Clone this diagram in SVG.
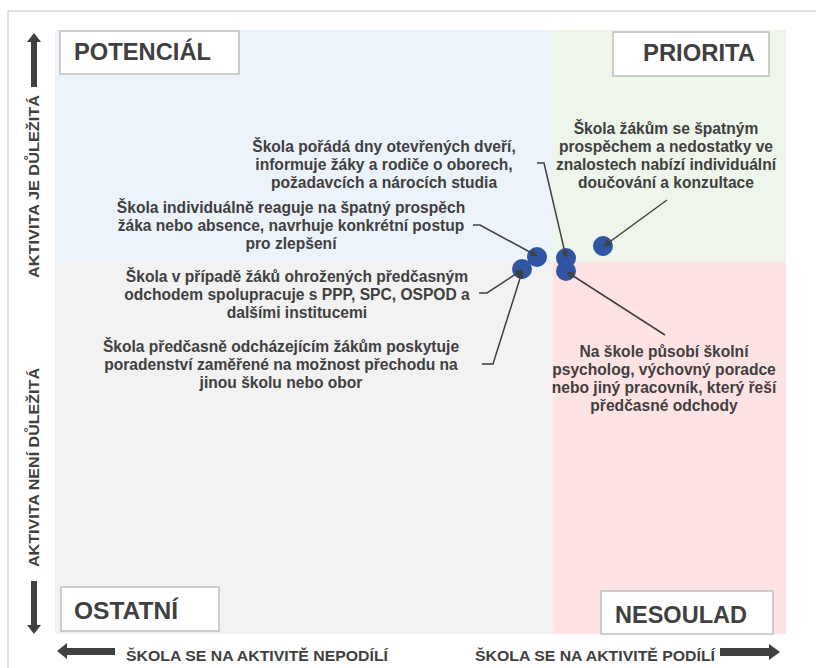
<svg xmlns="http://www.w3.org/2000/svg" width="816" height="668" viewBox="0 0 816 668">
<defs>
<style>
.frame{fill:none;stroke:#d9d9d9;stroke-width:1.5}
.lbl{fill:#fff;stroke:#bfbfbf;stroke-width:1.5}
.lt{font-family:"Liberation Sans",Arial,sans-serif;font-weight:bold;font-size:23px;fill:#404040}
.ax{font-family:"Liberation Sans",Arial,sans-serif;font-weight:bold;font-size:14px;fill:#404040}
.t{font-family:"Liberation Sans",Arial,sans-serif;font-weight:bold;font-size:15.6px;fill:#404040;text-anchor:middle}
.blk{fill:#404040}
.dot{fill:#2f55a3}
.con{fill:none;stroke:#404040;stroke-width:1.5;marker-end:url(#ah)}
</style>
<marker id="ah" viewBox="0 0 10 10" refX="9" refY="5" markerWidth="5" markerHeight="5" orient="auto" markerUnits="strokeWidth">
<path d="M0,0 L10,5 L0,10 z" fill="#404040"/>
</marker>
</defs>
<rect x="0" y="0" width="816" height="668" fill="#fff"/>
<path class="frame" d="M8,668 V11 H816"/>
<g id="quadrants">
<rect x="55" y="30" width="498" height="232" fill="#edf3fb"/>
<rect x="553" y="30" width="233" height="232" fill="#eef6ec"/>
<rect x="55" y="262" width="498" height="372" fill="#f2f2f2"/>
<rect x="553" y="262" width="233" height="372" fill="#ffe3e4"/>
</g>
<g id="label-potencial"><rect class="lbl" x="60" y="31" width="179" height="43"/><text class="lt" x="74" y="60" textLength="137" lengthAdjust="spacingAndGlyphs">POTENCIÁL</text></g>
<g id="label-priorita"><rect class="lbl" x="613" y="32" width="156" height="44"/><text class="lt" x="643" y="61" textLength="112" lengthAdjust="spacingAndGlyphs">PRIORITA</text></g>
<g id="label-ostatni"><rect class="lbl" x="61" y="587" width="158" height="44"/><text class="lt" x="74" y="619" textLength="104" lengthAdjust="spacingAndGlyphs">OSTATNÍ</text></g>
<g id="label-nesoulad"><rect class="lbl" x="601" y="591" width="172" height="43"/><text class="lt" x="615" y="623" textLength="132" lengthAdjust="spacingAndGlyphs">NESOULAD</text></g>
<g id="axes">
<path class="blk" d="M34,33 L41,42 L37,42 L37,87 L31,87 L31,42 L27,42 Z"/>
<path class="blk" d="M34,634 L41,625 L37,625 L37,581 L31,581 L31,625 L27,625 Z"/>
<path class="blk" d="M57,651 L67,643 L67,648 L115,648 L115,655 L67,655 L67,659 Z"/>
<path class="blk" d="M780,652 L769,644 L769,648 L720,648 L720,656 L769,656 L769,660 Z"/>
<text class="ax" transform="translate(39,278) rotate(-90)" textLength="183" lengthAdjust="spacingAndGlyphs">AKTIVITA JE DŮLEŽITÁ</text>
<text class="ax" transform="translate(39,567) rotate(-90)" textLength="199" lengthAdjust="spacingAndGlyphs">AKTIVITA NENÍ DŮLEŽITÁ</text>
<text class="ax" x="126" y="661" textLength="262" lengthAdjust="spacingAndGlyphs">ŠKOLA SE NA AKTIVITĚ NEPODÍLÍ</text>
<text class="ax" x="475" y="661" textLength="240" lengthAdjust="spacingAndGlyphs">ŠKOLA SE NA AKTIVITĚ PODÍLÍ</text>
</g>
<g id="node-dny-otevrenych-dveri">
<text class="t" x="384" y="152">Škola pořádá dny otevřených dveří,</text>
<text class="t" x="384" y="170">informuje žáky a rodiče o oborech,</text>
<text class="t" x="384" y="188">požadavcích a nárocích studia</text>
<circle class="dot" cx="566" cy="258" r="10"/>
</g>
<g id="node-individualni-reakce">
<text class="t" x="291" y="213">Škola individuálně reaguje na špatný prospěch</text>
<text class="t" x="291" y="231">žáka nebo absence, navrhuje konkrétní postup</text>
<text class="t" x="291" y="249">pro zlepšení</text>
<circle class="dot" cx="537" cy="257" r="10"/>
</g>
<g id="node-spoluprace">
<text class="t" x="297" y="282">Škola v případě žáků ohrožených předčasným</text>
<text class="t" x="297" y="300">odchodem spolupracuje s PPP, SPC, OSPOD a</text>
<text class="t" x="297" y="318">dalšími institucemi</text>
<circle class="dot" cx="522" cy="269" r="10"/>
</g>
<g id="node-poradenstvi">
<text class="t" x="281" y="352">Škola předčasně odcházejícím žákům poskytuje</text>
<text class="t" x="281" y="370">poradenství zaměřené na možnost přechodu na</text>
<text class="t" x="281" y="388">jinou školu nebo obor</text>
</g>
<g id="node-doucovani">
<text class="t" x="666" y="134">Škola žákům se špatným</text>
<text class="t" x="666" y="152">prospěchem a nedostatky ve</text>
<text class="t" x="666" y="170">znalostech nabízí individuální</text>
<text class="t" x="666" y="188">doučování a konzultace</text>
<circle class="dot" cx="603" cy="246" r="10"/>
</g>
<g id="node-skolni-psycholog">
<text class="t" x="664" y="357">Na škole působí školní</text>
<text class="t" x="664" y="375">psycholog, výchovný poradce</text>
<text class="t" x="664" y="393">nebo jiný pracovník, který řeší</text>
<text class="t" x="664" y="411">předčasné odchody</text>
<circle class="dot" cx="566" cy="271" r="10"/>
</g>
<g id="connectors">
<path class="con" d="M537,163 H544 L566,257"/>
<path class="con" d="M473,225 H480 L537,256"/>
<path class="con" d="M479,293 H487 L522,270"/>
<path class="con" d="M482,364 H493 L522,272"/>
<path class="con" d="M667,200 L604,246"/>
<path class="con" d="M665,335 L567,272"/>
</g>
</svg>
